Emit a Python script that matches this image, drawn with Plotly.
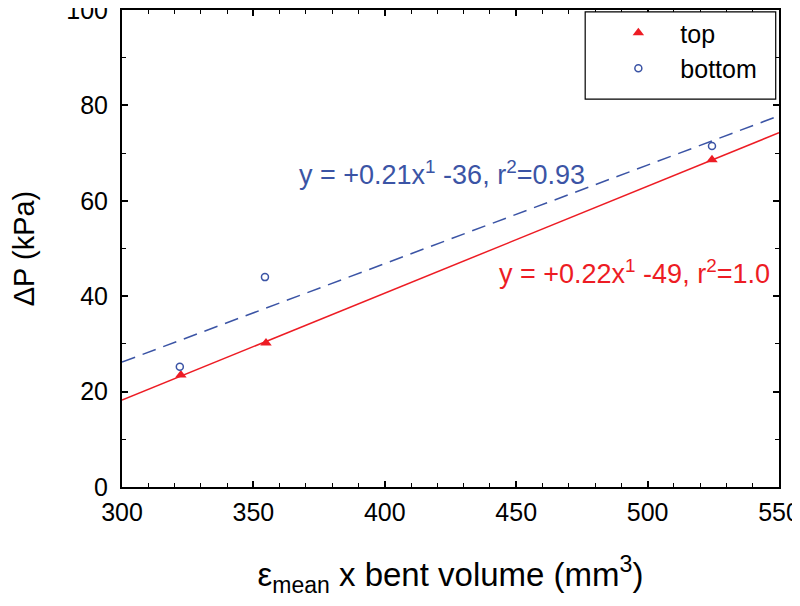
import numpy as np
import plotly.graph_objects as go

# data
top_x = [322.4, 354.8, 524.5]
top_y = [23.5, 30.2, 68.6]
bottom_x = [322.0, 354.4, 524.5]
bottom_y = [25.2, 44.0, 71.5]

x_range = [300, 550]
y_range = [0, 100]
x_ticks = [300, 350, 400, 450, 500, 550]
y_ticks = [0, 20, 40, 60, 80, 100]

top_label = "y = +0.22x<sup>1</sup> -49, r<sup>2</sup>=1.0"
bottom_label = "y = +0.21x<sup>1</sup> -36, r<sup>2</sup>=0.93"

RED = "rgb(237,28,36)"
BLUE = "rgb(59,84,165)"
FONT = "Liberation Sans, Arial, sans-serif"

fit_x = np.array(x_range, dtype=float)
pt = np.polyfit(top_x, top_y, 1)
pb = np.polyfit(bottom_x, bottom_y, 1)

fig = go.Figure()
fig.add_trace(go.Scatter(x=fit_x, y=np.polyval(pb, fit_x), mode="lines",
                         line=dict(color=BLUE, width=1.5, dash="14px,8px"),
                         showlegend=False, hoverinfo="skip"))
fig.add_trace(go.Scatter(x=fit_x, y=np.polyval(pt, fit_x), mode="lines",
                         line=dict(color=RED, width=1.5),
                         showlegend=False, hoverinfo="skip"))
fig.add_trace(go.Scatter(x=top_x, y=top_y, mode="markers", name="top",
                         marker=dict(symbol="triangle-up", size=10, color=RED)))
fig.add_trace(go.Scatter(x=bottom_x, y=bottom_y, mode="markers", name="bottom",
                         marker=dict(symbol="circle-open", size=7, color=BLUE,
                                     line=dict(width=1.5, color=BLUE))))

fig.add_annotation(x=421.8, y=65.8, xref="x", yref="y", text=bottom_label,
                   showarrow=False, font=dict(size=27, color=BLUE, family=FONT))
fig.add_annotation(x=495.2, y=45.1, xref="x", yref="y", text=top_label,
                   showarrow=False, font=dict(size=27, color=RED, family=FONT))

# legend frame
fig.add_shape(type="rect", xref="paper", yref="paper",
              x0=0.705, x1=0.995, y0=0.813, y1=0.996,
              line=dict(color="black", width=1.2), fillcolor="white", layer="above")

axis_common = dict(showgrid=False, zeroline=False, showline=True, linecolor="black",
                   linewidth=2, mirror="ticks", ticks="inside", ticklen=6,
                   tickwidth=1.5, tickcolor="black", automargin=False,
                   ticklabeloverflow="allow",
                   tickfont=dict(size=25, color="black", family=FONT))

fig.update_xaxes(range=x_range, tickvals=x_ticks, **axis_common,
                 ticklabelstandoff=2,
                 minor=dict(dtick=10, ticks="inside", ticklen=4, tickwidth=1.2,
                            tickcolor="black"),
                 title=dict(text="ε<sub><span style='font-size:23px'>mean</span></sub> x bent volume (mm<sup>3</sup>)",
                            font=dict(size=33, color="black", family=FONT), standoff=38))
fig.update_yaxes(range=y_range, tickvals=y_ticks, **axis_common,
                 ticklabelstandoff=7,
                 minor=dict(dtick=10, ticks="inside", ticklen=4, tickwidth=1.2,
                            tickcolor="black"),
                 title=dict(text="ΔP (kPa)",
                            font=dict(size=29, color="black", family=FONT), standoff=42))

fig.update_layout(
    width=800, height=606,
    margin=dict(l=114, r=29, t=2, b=127),
    plot_bgcolor="white", paper_bgcolor="white",
    legend=dict(x=0.722, y=1.0, xanchor="left", yanchor="top",
                bgcolor="rgba(0,0,0,0)", borderwidth=0,
                font=dict(size=25, color="black", family=FONT),
                itemwidth=74, tracegroupgap=0),
)

fig.write_html("out.html")
